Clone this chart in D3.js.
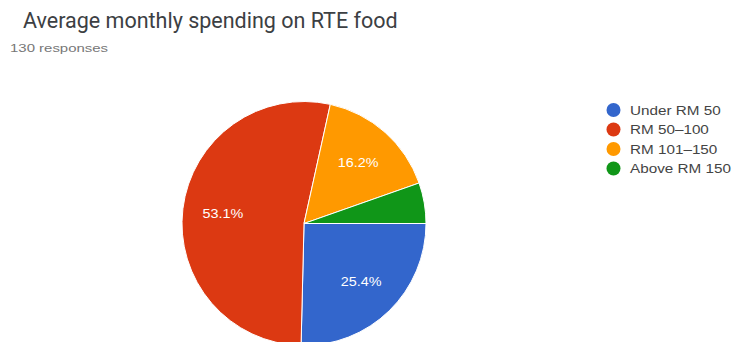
<!DOCTYPE html>
<html>
<head>
<meta charset="utf-8">
<script src="https://cdn.jsdelivr.net/npm/d3@7"></script>
<style>
  html, body { margin: 0; padding: 0; background: #fff; }
  svg { display: block; font-family: "Liberation Sans", Arial, sans-serif; }
</style>
</head>
<body>
<svg id="chart" width="736" height="342"></svg>
<script>
// Survey: average monthly spending on ready-to-eat food
const categories = ["Under RM 50", "RM 50\u2013100", "RM 101\u2013150", "Above RM 150"];
const responses = [33, 69, 21, 7];
const colors = ["#3366cc", "#dc3912", "#ff9900", "#109618"];
const title = "Average monthly spending on RTE food";
const subtitle = "130 responses";

const svg = d3.select("#chart");

// Stretch small chart text horizontally by a factor
function widen(k) {
  return sel => sel.each(function () {
    const w = this.getComputedTextLength();
    d3.select(this).attr("textLength", w * k).attr("lengthAdjust", "spacingAndGlyphs");
  });
}

svg.append("text")
  .attr("x", 23).attr("y", 28)
  .attr("font-family", "Roboto, sans-serif")
  .attr("font-size", 21.5)
  .attr("fill", "#3c4043")
  .text(title);

svg.append("text")
  .attr("x", 10).attr("y", 52)
  .attr("font-size", 11.5)
  .attr("fill", "#777")
  .text(subtitle)
  .call(widen(1.3));

const total = d3.sum(responses);
const data = categories.map((c, i) => ({ name: c, value: responses[i], color: colors[i] }));

const cx = 304, cy = 223.5, R = 122;

// Start at 3 o'clock and run clockwise
const pie = d3.pie()
  .sort(null)
  .value(d => d.value)
  .startAngle(Math.PI / 2)
  .endAngle(Math.PI / 2 + 2 * Math.PI);

const arc = d3.arc().innerRadius(0).outerRadius(R);
const labelArc = d3.arc().innerRadius(R * 0.67).outerRadius(R * 0.67);

const g = svg.append("g").attr("transform", `translate(${cx},${cy})`);
const arcs = pie(data);

g.selectAll("path.slice")
  .data(arcs)
  .join("path")
  .attr("class", "slice")
  .attr("d", arc)
  .attr("fill", d => d.data.color)
  .attr("stroke", "#fff")
  .attr("stroke-width", 1);

// Percent labels; tiny slices stay unlabeled
g.selectAll("text.pct")
  .data(arcs.filter(d => d.data.value / total >= 0.1))
  .join("text")
  .attr("class", "pct")
  .attr("transform", d => `translate(${labelArc.centroid(d)})`)
  .attr("text-anchor", "middle")
  .attr("dy", "0.35em")
  .attr("font-size", 12.5)
  .attr("fill", "#fff")
  .text(d => (d.data.value / total * 100).toFixed(1) + "%")
  .call(widen(1.15));

// Legend
const legend = svg.append("g").attr("transform", "translate(613.5,110)");
const rows = legend.selectAll("g")
  .data(data)
  .join("g")
  .attr("transform", (d, i) => `translate(0,${i * 19.5})`);
rows.append("circle").attr("r", 7).attr("fill", d => d.color);
rows.append("text")
  .attr("x", 16.5).attr("dy", "0.36em")
  .attr("font-size", 12.5)
  .attr("fill", "#444")
  .text(d => d.name)
  .call(widen(1.22));
</script>
</body>
</html>
